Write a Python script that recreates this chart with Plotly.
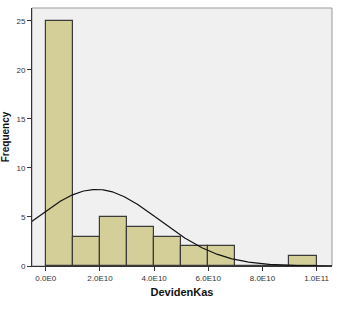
import numpy as np
import plotly.graph_objects as go

bin_starts = [0.0, 1e10, 2e10, 3e10, 4e10, 5e10, 6e10, 7e10, 8e10, 9e10]
counts = [25, 3, 5, 4, 3, 2, 2, 0, 0, 1]
bin_width = 1e10
x_tickvals = [0, 2e10, 4e10, 6e10, 8e10, 1e11]
x_ticktext = ["0.0E0", "2.0E10", "4.0E10", "6.0E10", "8.0E10", "1.0E11"]
y_tickvals = [0, 5, 10, 15, 20, 25]
curve_mean = 1.87e10
curve_sd = 2.3e10
n_total = sum(counts)

centers = [s + bin_width / 2 for s in bin_starts]
xs = np.linspace(-0.6e10, 10.7e10, 300)
ys = n_total * bin_width / (curve_sd * np.sqrt(2 * np.pi)) * np.exp(-0.5 * ((xs - curve_mean) / curve_sd) ** 2)

fig = go.Figure()
fig.add_trace(go.Bar(x=centers, y=counts, width=bin_width,
                     marker=dict(color="#D4CF98", line=dict(color="#3a3a3a", width=1.2)),
                     hoverinfo="skip"))
fig.add_trace(go.Scatter(x=xs, y=ys, mode="lines", line=dict(color="#111111", width=1.2),
                         hoverinfo="skip"))

fig.update_layout(
    width=337, height=320,
    margin=dict(l=30, r=5, t=8, b=54),
    paper_bgcolor="white", plot_bgcolor="#F0F0F0",
    showlegend=False, bargap=0,
    font=dict(family="Liberation Sans, Arial", size=8, color="#333333"),
    xaxis=dict(range=[-0.51e10, 10.57e10], tickvals=x_tickvals, ticktext=x_ticktext,
               ticks="outside", ticklen=4, tickcolor="#333333",
               showgrid=False, zeroline=False,
               showline=True, linecolor="#333333", linewidth=1, mirror=False,
               title=dict(text="<b>DevidenKas</b>", font=dict(size=11, color="#111111"), standoff=6),
               tickfont=dict(size=8, color="#333333")),
    yaxis=dict(range=[0, 26.3], tickvals=y_tickvals,
               ticks="outside", ticklen=4, tickcolor="#333333",
               showgrid=False, zeroline=False,
               showline=True, linecolor="#333333", linewidth=1,
               title=dict(text="<b>Frequency</b>", font=dict(size=10, color="#111111"), standoff=4),
               tickfont=dict(size=8, color="#333333")),
    shapes=[dict(type="rect", xref="paper", yref="paper", x0=0, y0=0, x1=1, y1=1,
                 line=dict(color="#9a9a9a", width=1), fillcolor="rgba(0,0,0,0)", layer="below")],
)

fig.write_html("out.html")
